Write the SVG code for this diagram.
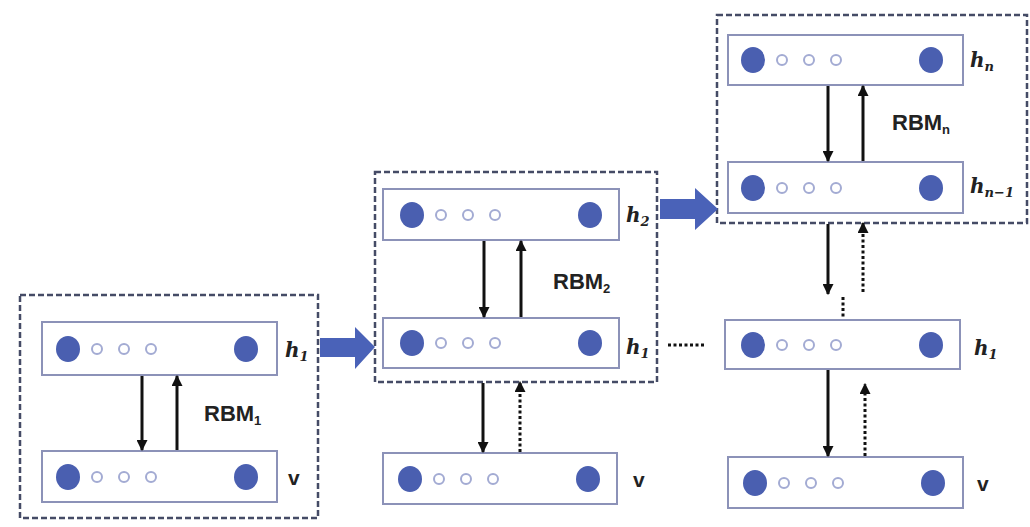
<svg xmlns="http://www.w3.org/2000/svg" width="1030" height="527" viewBox="0 0 1030 527">
  <defs>
    <marker id="ah" viewBox="0 0 10 10" refX="9" refY="5" markerWidth="11" markerHeight="11" markerUnits="userSpaceOnUse" orient="auto">
      <path d="M0,0 L10,5 L0,10 z" fill="#111"/>
    </marker>
    <style>
      .group { fill: none; stroke: #454b66; stroke-width: 2.5; stroke-dasharray: 6 3; }
      .layer { fill: #fff; stroke: #8c92b8; stroke-width: 2; }
      .big { fill: #4a5fb0; }
      .small { fill: #fff; stroke: #a3abd3; stroke-width: 2; }
      .solid { stroke: #111; stroke-width: 3; fill: none; marker-end: url(#ah); }
      .dotted { stroke: #111; stroke-width: 3; fill: none; stroke-dasharray: 3 2.5; marker-end: url(#ah); }
      .dots { stroke: #111; stroke-width: 3; fill: none; stroke-dasharray: 3 2.5; }
      .h { font-family: "DejaVu Serif", "Liberation Serif", serif; font-style: italic; font-weight: bold; font-size: 20px; fill: #222; }
      .hs { font-size: 13px; }
      .v { font-family: "Liberation Sans", Arial, sans-serif; font-weight: bold; font-size: 21px; fill: #222; }
      .rbm { font-family: "Liberation Sans", Arial, sans-serif; font-weight: bold; font-size: 22px; fill: #222; }
      .rbms { font-size: 13px; }
      .flow { fill: #4a62b8; }
    </style>
    <g id="units">
      <ellipse class="big" cx="0" cy="0" rx="12" ry="13"/>
      <circle class="small" cx="29" cy="0" r="5"/>
      <circle class="small" cx="56" cy="0" r="5"/>
      <circle class="small" cx="83" cy="0" r="5"/>
      <ellipse class="big" cx="178" cy="0" rx="12" ry="13"/>
    </g>
  </defs>
  <rect width="1030" height="527" fill="#fff"/>

  <!-- stage 1: RBM1 -->
  <g id="stage1">
    <rect class="group" x="20" y="295" width="298" height="223"/>
    <g id="s1-h1">
      <rect class="layer" x="42" y="322" width="235" height="53"/>
      <use href="#units" x="68" y="349"/>
      <text class="h" x="285" y="357">h<tspan class="hs" dy="4">1</tspan></text>
    </g>
    <g id="s1-v">
      <rect class="layer" x="42" y="451" width="235" height="51"/>
      <use href="#units" x="68" y="477"/>
      <text class="v" x="288" y="485">v</text>
    </g>
    <text class="rbm" x="204" y="421">RBM<tspan class="rbms" dy="4">1</tspan></text>
  </g>

  <!-- stage 2: RBM2 -->
  <g id="stage2">
    <rect class="group" x="375" y="172" width="282" height="210"/>
    <g id="s2-h2">
      <rect class="layer" x="383" y="189" width="236" height="51"/>
      <use href="#units" x="412" y="215"/>
      <text class="h" x="626" y="222">h<tspan class="hs" dy="4">2</tspan></text>
    </g>
    <g id="s2-h1">
      <rect class="layer" x="383" y="318" width="236" height="50"/>
      <use href="#units" x="412" y="343"/>
      <text class="h" x="626" y="354">h<tspan class="hs" dy="4">1</tspan></text>
    </g>
    <text class="rbm" x="553" y="289">RBM<tspan class="rbms" dy="4">2</tspan></text>
  </g>
  <g id="s2-v">
    <rect class="layer" x="383" y="453" width="234" height="51"/>
    <use href="#units" x="410" y="479"/>
    <text class="v" x="633" y="487">v</text>
  </g>

  <!-- stage n: RBMn -->
  <g id="stagen">
    <rect class="group" x="717" y="15" width="310" height="208"/>
    <g id="sn-hn">
      <rect class="layer" x="728" y="35" width="235" height="50"/>
      <use href="#units" x="753" y="60"/>
      <text class="h" x="970" y="67">h<tspan class="hs" dy="4">n</tspan></text>
    </g>
    <g id="sn-hn1">
      <rect class="layer" x="728" y="162" width="235" height="51"/>
      <use href="#units" x="753" y="188"/>
      <text class="h" x="970" y="193">h<tspan class="hs" dy="4">n−1</tspan></text>
    </g>
    <text class="rbm" x="892" y="130">RBM<tspan class="rbms" dy="4">n</tspan></text>
  </g>
  <g id="sn-h1">
    <rect class="layer" x="725" y="320" width="235" height="49"/>
    <use href="#units" x="753" y="345"/>
    <text class="h" x="974" y="355">h<tspan class="hs" dy="4">1</tspan></text>
  </g>
  <g id="sn-v">
    <rect class="layer" x="728" y="457" width="235" height="51"/>
    <use href="#units" x="755" y="483"/>
    <text class="v" x="977" y="491">v</text>
  </g>

  <!-- connectors -->
  <g id="connectors">
    <!-- stage 1 -->
    <line class="solid" x1="142" y1="376" x2="142" y2="450"/>
    <line class="solid" x1="177" y1="450" x2="177" y2="376"/>
    <!-- stage 2 -->
    <line class="solid" x1="484" y1="241" x2="484" y2="317"/>
    <line class="solid" x1="521" y1="317" x2="521" y2="241"/>
    <line class="solid" x1="483" y1="383" x2="483" y2="452"/>
    <line class="dotted" x1="520" y1="452" x2="520" y2="382"/>
    <!-- stage n -->
    <line class="solid" x1="828" y1="86" x2="828" y2="161"/>
    <line class="solid" x1="863" y1="161" x2="863" y2="86"/>
    <line class="solid" x1="828" y1="224" x2="828" y2="294"/>
    <line class="dotted" x1="863" y1="292" x2="863" y2="223"/>
    <line class="dots" x1="843" y1="297" x2="843" y2="319"/>
    <line class="solid" x1="828" y1="370" x2="828" y2="456"/>
    <line class="dotted" x1="865" y1="456" x2="865" y2="384"/>
    <!-- ellipsis between stages -->
    <line class="dots" x1="668" y1="345" x2="704" y2="345" stroke-dasharray="4 6"/>
    <!-- stage flow arrows -->
    <path class="flow" d="M320,338 L355,338 L355,327 L375,347 L355,369 L355,357 L320,357 z"/>
    <path class="flow" d="M660,199 L695,199 L695,188 L718,209 L695,230 L695,219 L660,219 z"/>
  </g>
</svg>
